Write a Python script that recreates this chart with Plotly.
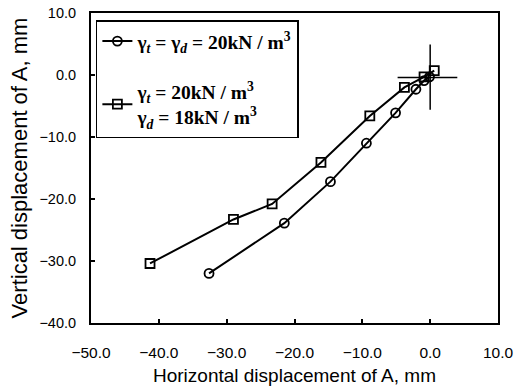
import plotly.graph_objects as go

# Series 1: gamma_t = gamma_d = 20 kN/m3 (circles)
s1_x = [-32.6, -21.5, -14.7, -9.4, -5.1, -2.1, -0.9, -0.1]
s1_y = [-32.0, -23.9, -17.2, -11.0, -6.1, -2.3, -0.9, -0.3]
# Series 2: gamma_t = 20, gamma_d = 18 kN/m3 (squares)
s2_x = [-41.3, -29.0, -23.3, -16.1, -8.9, -3.8, -0.9, 0.6]
s2_y = [-30.4, -23.3, -20.8, -14.1, -6.6, -2.0, -0.3, 0.7]
# Crosshair at origin
cross_h_x = [-4.8, 4.0]
cross_h_y = [-0.4, -0.4]
cross_v_x = [0.0, 0.0]
cross_v_y = [4.9, -5.6]

name1 = "<b>γ<sub><i>t</i></sub> = γ<sub><i>d</i></sub> = 20kN / m<sup>3</sup></b>"
name2 = "<b>γ<sub><i>t</i></sub> = 20kN / m<sup>3</sup><br>γ<sub><i>d</i></sub> = 18kN / m<sup>3</sup></b>"

fig = go.Figure()
fig.add_trace(go.Scatter(x=s1_x, y=s1_y, mode="lines+markers", name=name1,
                         legendgroup="a",
                         line=dict(color="black", width=2),
                         marker=dict(symbol="circle-open", size=9, color="black", line=dict(width=1.8))))
fig.add_trace(go.Scatter(x=s2_x, y=s2_y, mode="lines+markers", name=name2,
                         legendgroup="b",
                         line=dict(color="black", width=2),
                         marker=dict(symbol="square-open", size=9, color="black", line=dict(width=1.8))))
fig.add_trace(go.Scatter(x=cross_h_x, y=cross_h_y, mode="lines", showlegend=False,
                         line=dict(color="black", width=1.5)))
fig.add_trace(go.Scatter(x=cross_v_x, y=cross_v_y, mode="lines", showlegend=False,
                         line=dict(color="black", width=1.5)))

axis_common = dict(showgrid=False, zeroline=False, showline=True, linecolor="black",
                   linewidth=2, mirror=True, ticks="inside", ticklen=4, tickwidth=1.5,
                   tickcolor="black", tickformat=".1f", automargin=False)

fig.update_xaxes(range=[-50, 10], dtick=10, title_text="Horizontal displacement of A, mm",
                 tickfont=dict(family="Liberation Sans, Arial", size=15.5, color="black"),
                 title_font=dict(family="Liberation Sans, Arial", size=19, color="black"),
                 ticklabelstandoff=14, title_standoff=10, **axis_common)
fig.update_yaxes(range=[-40, 10], dtick=10, title_text="Vertical displacement of A, mm",
                 tickfont=dict(family="Liberation Sans, Arial", size=14.5, color="black"),
                 title_font=dict(family="Liberation Sans, Arial", size=22, color="black"),
                 ticklabelstandoff=10, title_standoff=6, **axis_common)

fig.update_layout(
    width=520, height=386,
    margin=dict(l=91, r=22, t=13, b=63, autoexpand=False),
    paper_bgcolor="white", plot_bgcolor="white",
    showlegend=True,
    legend=dict(x=0.012, y=0.976, xanchor="left", yanchor="top",
                bordercolor="black", borderwidth=1.5, bgcolor="white",
                font=dict(family="Liberation Serif, Times New Roman", size=19.5, color="black"),
                tracegroupgap=22, traceorder="grouped"),
)

fig.write_html("out.html")
